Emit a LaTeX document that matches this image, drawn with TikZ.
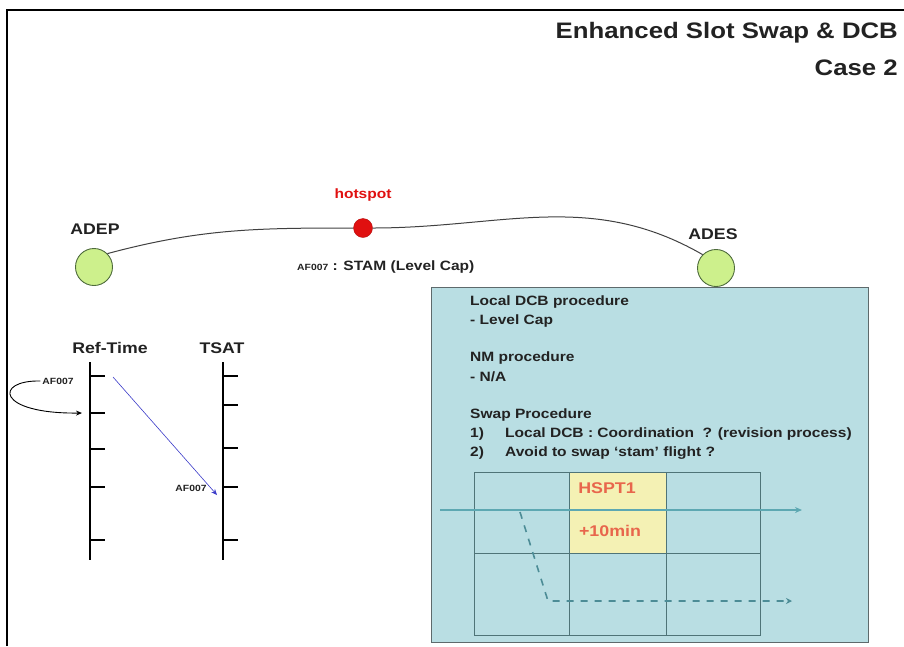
\documentclass[tikz,border=0pt]{standalone}
\usepackage{fontspec}
\setmainfont{Liberation Sans}[FakeStretch=1.15]
\usetikzlibrary{arrows.meta}
\definecolor{boxblue}{HTML}{B9DEE3}
\definecolor{boxedge}{HTML}{5E6A6C}
\definecolor{gridc}{HTML}{4F7478}
\definecolor{cellyel}{HTML}{F4F1B4}
\definecolor{teal1}{HTML}{5DA8B2}
\definecolor{teal2}{HTML}{4C8C96}
\definecolor{lgreen}{HTML}{CDF08C}
\definecolor{dgreen}{HTML}{4E6B3C}
\definecolor{hsred}{HTML}{E01010}
\definecolor{hsptc}{HTML}{E8664C}
\definecolor{arrblue}{HTML}{3A3AC8}
\definecolor{txt}{HTML}{222222}
\tikzset{
  lbl/.style={font=\bfseries\fontsize{15.4}{17}\selectfont, text=txt, inner sep=0pt},
  boxtxt/.style={font=\bfseries\fontsize{13.5}{15}\selectfont, text=txt, anchor=west, inner sep=0pt},
  tiny7/.style={font=\bfseries\fontsize{9}{10}\selectfont, text=txt, inner sep=0pt},
  airport/.style={circle, draw=dgreen, line width=0.9pt, fill=lgreen, minimum size=37pt, inner sep=0pt},
  bar/.style={line width=2.6pt},
  tick/.style={line width=1.1pt},
  gridline/.style={draw=gridc, line width=0.7pt},
  ttl/.style={font=\bfseries\fontsize{22.4}{25}\selectfont, text=txt, anchor=east, inner sep=0pt},
}
\begin{document}
\begin{tikzpicture}[x=1pt,y=-1pt]
\useasboundingbox (0,0) rectangle (904,646);
% frame
\draw[line width=2.2pt] (7,646) -- (7,10) -- (904,10);
% title
\node[ttl] (title) at (898,33) {Enhanced Slot Swap \& DCB};
\node[ttl] (case) at (898,68) {Case 2};
% route
\node[airport] (adep) at (94,267) {};
\node[airport] (ades) at (716,268) {};
\node[lbl] (adepl) at (95,229) {ADEP};
\node[lbl] (adesl) at (713,234) {ADES};
\node[circle, fill=hsred, draw=hsred!80!black, minimum size=19pt, inner sep=0pt] (hs) at (363,228) {};
\node[font=\bfseries\fontsize{13.5}{15}\selectfont, text=hsred, inner sep=0pt] (hsl) at (363,195) {hotspot};
\draw[line width=1pt, draw=black!75] (adep.45) to[out=15,in=180] (hs.west);
\draw[line width=1pt, draw=black!75] (hs.east) to[out=0,in=150] (ades.135);
\node[font=\bfseries\fontsize{13.5}{15}\selectfont, text=txt, inner sep=0pt, anchor=west] (stam) at (297,267) {{\fontsize{9}{10}\selectfont AF007} : STAM (Level Cap)};
% info box
\node[draw=boxedge, line width=1.3pt, fill=boxblue, minimum width=437pt, minimum height=355pt, inner sep=0pt, anchor=north west] (box) at (431,287) {};
\node[boxtxt] (t1) at (470,302) {Local DCB procedure};
\node[boxtxt] (t2) at (470,321) {- Level Cap};
\node[boxtxt] (t3) at (470,358) {NM procedure};
\node[boxtxt] (t4) at (470,377) {- N/A};
\node[boxtxt] (t5) at (470,415) {Swap Procedure};
\node[boxtxt] (n1) at (470,434) {1)};
\node[boxtxt] (t6) at (505,434) {Local DCB : Coordination\ \ ? (revision process)};
\node[boxtxt] (n2) at (470,453) {2)};
\node[boxtxt] (t7) at (505,453) {Avoid to swap ‘stam’ flight ?};
% grid
\fill[cellyel] (569,472) rectangle (666,553);
\draw[gridline] (474,472) rectangle (760,635);
\draw[gridline] (569,472) -- (569,635);
\draw[gridline] (666,472) -- (666,635);
\draw[gridline] (474,553) -- (760,553);
\node[font=\bfseries\fontsize{15.5}{17}\selectfont, text=hsptc, inner sep=0pt] (hspt) at (607,488) {HSPT1};
\node[font=\bfseries\fontsize{15.5}{17}\selectfont, text=hsptc, inner sep=0pt] (plus) at (610,531) {+10min};
\coordinate (fa) at (440,510);
\coordinate (fb) at (802,510);
\draw[draw=teal1, line width=1.8pt, -{Stealth[length=7pt,width=6pt]}] (fa) -- (fb);
\coordinate (da) at (520,512);
\coordinate (db) at (548,601);
\coordinate (dc) at (792,601);
\draw[draw=teal2, line width=1.6pt, dash pattern=on 7pt off 7pt, -{Stealth[length=6pt,width=6pt]}] (da) -- (db) -- (dc);
% timelines
\node[lbl] (reft) at (110,348) {Ref-Time};
\node[lbl] (tsat) at (222,348) {TSAT};
\coordinate (r0) at (90,362);
\coordinate (r1) at (90,560);
\coordinate (s0) at (223,362);
\coordinate (s1) at (223,560);
\draw[bar] (r0) -- (r1);
\draw[bar] (s0) -- (s1);
\foreach \y/\n in {376/a,413/b,449/c,487/d,540/e} {
  \coordinate (rt\n) at (90,\y);
  \draw[tick] (rt\n) -- ++(15,0);
}
\foreach \y/\n in {376/a,405/b,448/c,487/d,540/e} {
  \coordinate (st\n) at (223,\y);
  \draw[tick] (st\n) -- ++(15,0);
}
\node[tiny7] (af1) at (58,381) {AF007};
\node[tiny7] (af2) at (191,488) {AF007};
\draw[line width=0.9pt, -{Stealth[length=6pt,width=5pt]}] ([xshift=-2pt]af1.west) .. controls (-6,380) and (-4,414) .. ([xshift=-8pt]rtb);
\coordinate (ba) at (113,377);
\draw[draw=arrblue, line width=0.6pt, -{Stealth[length=6pt,width=5pt]}] (ba) -- ([shift={(-6pt,-8pt)}]std);
\end{tikzpicture}
\end{document}
